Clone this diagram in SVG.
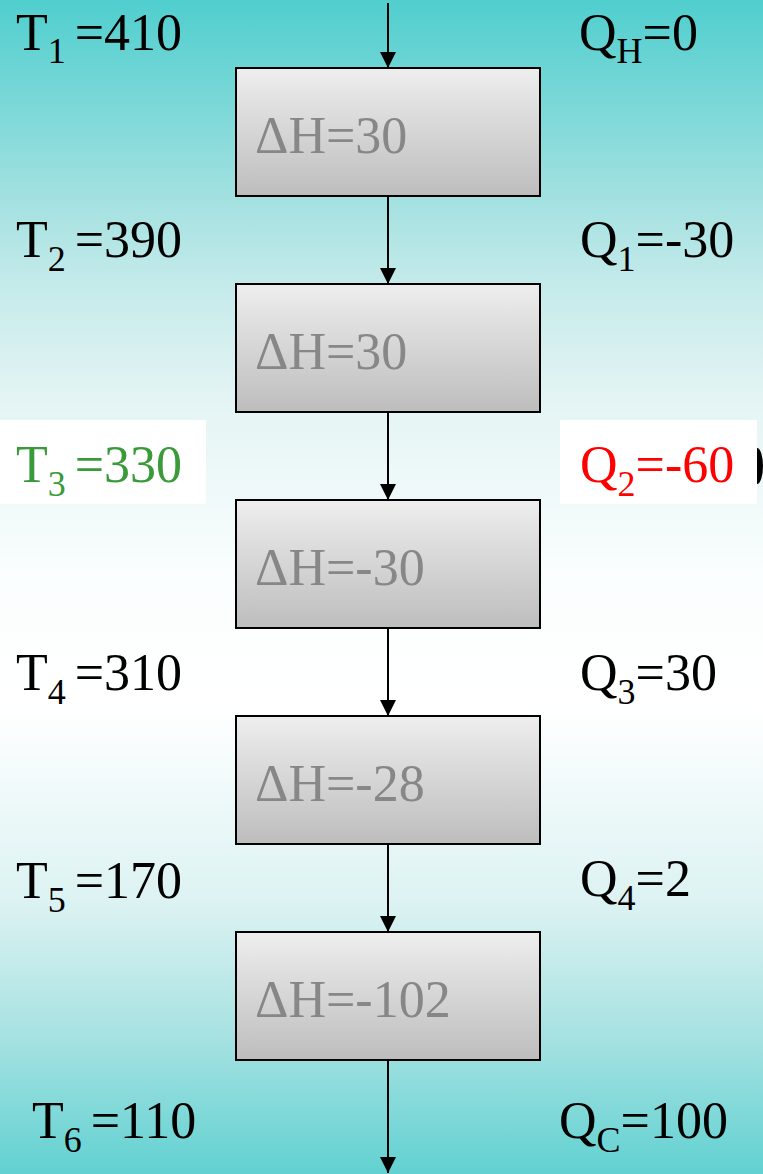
<svg xmlns="http://www.w3.org/2000/svg" width="763" height="1174" viewBox="0 0 763 1174">
<style>
.lbl{font-family:"Liberation Serif","Times New Roman",serif;font-size:52px;fill:#000}
.sub{font-size:36px}
.dh{font-family:"Liberation Serif","Times New Roman",serif;font-size:52px;fill:#878787}
.box{fill:url(#boxg);stroke:#000;stroke-width:2}
.conn{stroke:#000;stroke-width:2;fill:none;marker-end:url(#arr)}
</style>
<defs>
<linearGradient id="bg" x1="0" y1="0" x2="0" y2="1">
<stop offset="0" stop-color="#50CECE"/>
<stop offset="0.18" stop-color="#A8E2E2"/>
<stop offset="0.24" stop-color="#C4EAEA"/>
<stop offset="0.34" stop-color="#E4F4F4"/>
<stop offset="0.5" stop-color="#FBFEFE"/>
<stop offset="0.6" stop-color="#FFFFFF"/>
<stop offset="0.77" stop-color="#DCF2F2"/>
<stop offset="0.88" stop-color="#A8E2E2"/>
<stop offset="1" stop-color="#62D1D1"/>
</linearGradient>
<linearGradient id="boxg" x1="0" y1="0" x2="0" y2="1">
<stop offset="0" stop-color="#EEEEEE"/>
<stop offset="1" stop-color="#BDBDBD"/>
</linearGradient>
<marker id="arr" viewBox="0 0 16 17" refX="16" refY="8" markerWidth="16" markerHeight="17" markerUnits="userSpaceOnUse" orient="auto">
<path d="M0,0 L16,8 L0,16 Z" fill="#000"/>
</marker>
</defs>
<rect x="0" y="0" width="763" height="1174" fill="url(#bg)"/>

<g id="connectors">
<line class="conn" x1="388" y1="3" x2="388" y2="68"/>
<line class="conn" x1="388" y1="196" x2="388" y2="284"/>
<line class="conn" x1="388" y1="412" x2="388" y2="500"/>
<line class="conn" x1="388" y1="628" x2="388" y2="716"/>
<line class="conn" x1="388" y1="844" x2="388" y2="932"/>
<line class="conn" x1="388" y1="1060" x2="388" y2="1173"/>
</g>

<g id="box1"><rect class="box" x="236" y="68" width="304" height="128"/><text class="dh" x="255" y="153">ΔH=30</text></g>
<g id="box2"><rect class="box" x="236" y="284" width="304" height="128"/><text class="dh" x="255" y="369">ΔH=30</text></g>
<g id="box3"><rect class="box" x="236" y="500" width="304" height="128"/><text class="dh" x="255" y="585">ΔH=-30</text></g>
<g id="box4"><rect class="box" x="236" y="716" width="304" height="128"/><text class="dh" x="255" y="801">ΔH=-28</text></g>
<g id="box5"><rect class="box" x="236" y="932" width="304" height="128"/><text class="dh" x="255" y="1017">ΔH=-102</text></g>

<ellipse cx="757" cy="466" rx="6" ry="18" fill="#000"/>
<rect x="0" y="420" width="206" height="84" fill="#FFFFFF"/>
<rect x="560" y="420" width="197" height="84" fill="#FFFFFF"/>

<g id="T1"><text class="lbl" x="16" y="50">T<tspan class="sub" dy="13">1 </tspan><tspan dy="-13">=410</tspan></text></g>
<g id="T2"><text class="lbl" x="16" y="257">T<tspan class="sub" dy="14">2 </tspan><tspan dy="-14">=390</tspan></text></g>
<g id="T3"><text class="lbl" x="16" y="482" style="fill:#3A9A3A">T<tspan class="sub" dy="14">3 </tspan><tspan dy="-14">=330</tspan></text></g>
<g id="T4"><text class="lbl" x="16" y="690">T<tspan class="sub" dy="14">4 </tspan><tspan dy="-14">=310</tspan></text></g>
<g id="T5"><text class="lbl" x="16" y="898">T<tspan class="sub" dy="14">5 </tspan><tspan dy="-14">=170</tspan></text></g>
<g id="T6"><text class="lbl" x="32" y="1138">T<tspan class="sub" dy="14">6 </tspan><tspan dy="-14">=110</tspan></text></g>

<g id="QH"><text class="lbl" x="579" y="50">Q<tspan class="sub" dy="13">H</tspan><tspan dy="-13">=0</tspan></text></g>
<g id="Q1"><text class="lbl" x="580" y="257">Q<tspan class="sub" dy="14">1</tspan><tspan dy="-14">=-30</tspan></text></g>
<g id="Q2"><text class="lbl" x="580" y="482" style="fill:#FF0000">Q<tspan class="sub" dy="14">2</tspan><tspan dy="-14">=-60</tspan></text></g>
<g id="Q3"><text class="lbl" x="580" y="690">Q<tspan class="sub" dy="14">3</tspan><tspan dy="-14">=30</tspan></text></g>
<g id="Q4"><text class="lbl" x="580" y="896">Q<tspan class="sub" dy="14">4</tspan><tspan dy="-14">=2</tspan></text></g>
<g id="QC"><text class="lbl" x="559" y="1138">Q<tspan class="sub" dy="14">C</tspan><tspan dy="-14">=100</tspan></text></g>
</svg>
